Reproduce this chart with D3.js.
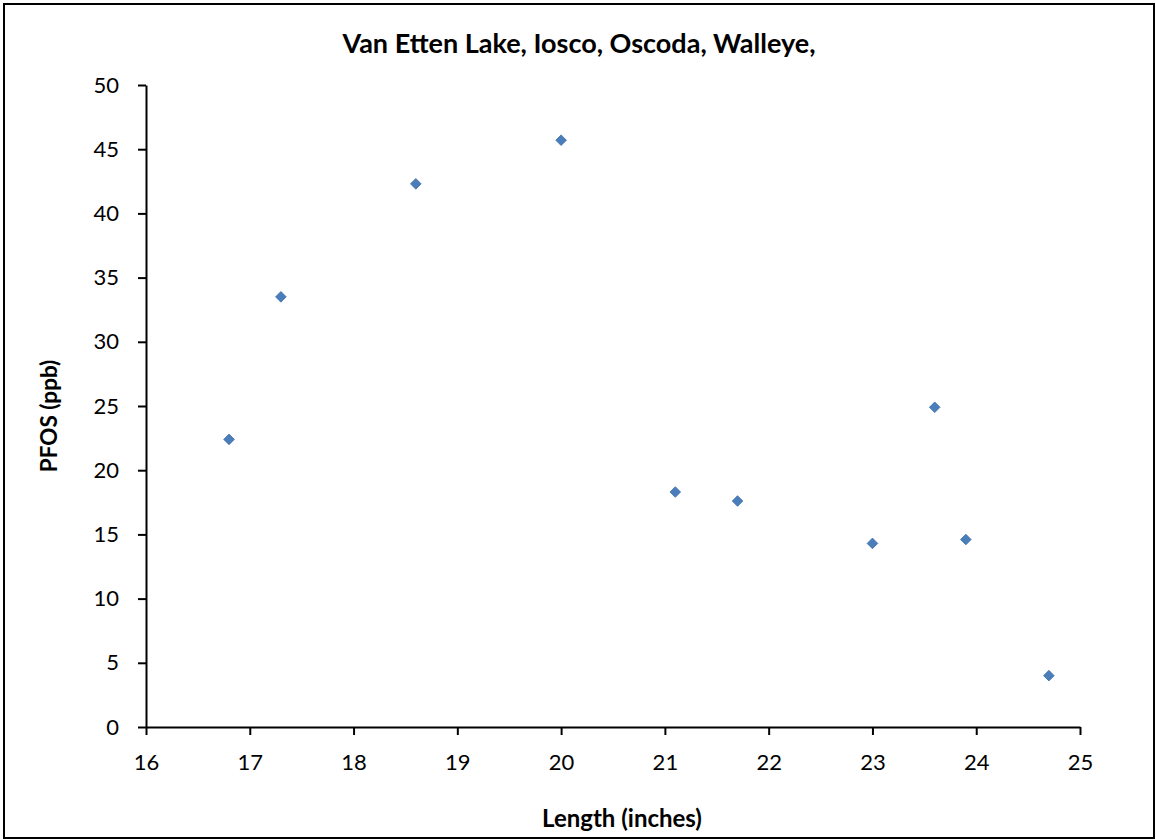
<!DOCTYPE html>
<html><head><meta charset="utf-8">
<script src="https://cdn.jsdelivr.net/npm/d3@7"></script>
<style>body{margin:0;background:#fff}svg{display:block}</style>
</head><body>
<svg id="c" width="1156" height="840"></svg>
<script>
const lengths = [16.8, 17.3, 18.6, 20.0, 21.1, 21.7, 23.0, 23.6, 23.9, 24.7];
const pfos    = [22.4, 33.5, 42.3, 45.7, 18.3, 17.6, 14.3, 24.9, 14.6, 4.0];
const xTicks = [16,17,18,19,20,21,22,23,24,25];
const yTicks = [0,5,10,15,20,25,30,35,40,45,50];
const title = "Van Etten Lake, Iosco, Oscoda, Walleye,";
const xLabel = "Length (inches)";
const yLabel = "PFOS (ppb)";

const svg = d3.select("#c");
const font = "Lato, 'Open Sans', sans-serif";
svg.append("rect").attr("x",4).attr("y",4).attr("width",1150).attr("height",834)
  .attr("fill","#fff").attr("stroke","#000").attr("stroke-width",2);

const x = d3.scaleLinear().domain([16,25]).range([146,1080]);
const y = d3.scaleLinear().domain([0,50]).range([727,85]);

const xa = svg.append("g").attr("transform","translate(0,727)")
  .call(d3.axisBottom(x).tickValues(xTicks).tickSize(8).tickSizeOuter(0).tickPadding(19));
const ya = svg.append("g").attr("transform","translate(146,0)")
  .call(d3.axisLeft(y).tickValues(yTicks).tickSize(8).tickSizeOuter(0).tickPadding(19));
[xa,ya].forEach(g=>{
  g.selectAll("path,line").attr("stroke","#000").attr("stroke-width",2);
  g.selectAll("text").attr("font-family",font).attr("font-size",22).attr("fill","#000");
});

const pts = lengths.map((l,i)=>({l, v:pfos[i]}));
svg.append("g").selectAll("path").data(pts).join("path")
  .attr("d", d3.symbol(d3.symbolDiamond2 || d3.symbolSquare, 72))
  .attr("transform", d=>`translate(${x(d.l)},${y(d.v)}) rotate(${d3.symbolDiamond2?0:45})`)
  .attr("fill","#4A7EBB").attr("stroke","#3D6DA8").attr("stroke-width",0.8);

svg.append("text").attr("x",579).attr("y",53).attr("text-anchor","middle")
  .attr("font-family",font).attr("font-weight","bold").attr("font-size",27).text(title);
svg.append("text").attr("x",622).attr("y",827).attr("text-anchor","middle")
  .attr("font-family",font).attr("font-weight","bold").attr("font-size",24).text(xLabel);
svg.append("text").attr("transform","translate(57,416) rotate(-90)").attr("text-anchor","middle")
  .attr("font-family",font).attr("font-weight","bold").attr("font-size",22.5).text(yLabel);
</script>
</body></html>
